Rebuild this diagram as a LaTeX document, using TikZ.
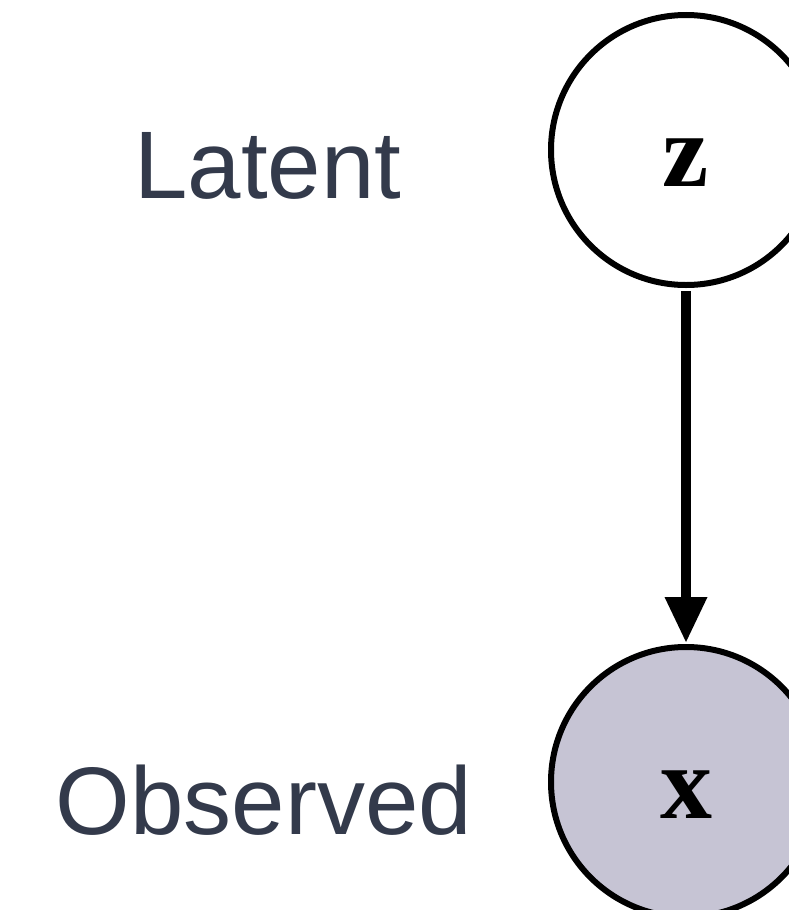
\documentclass[tikz,border=0pt]{standalone}
\usepackage{fontspec}
\setmainfont{Liberation Sans}
\newfontfamily\serifbold{Liberation Serif}
\usetikzlibrary{arrows.meta}
\definecolor{labelgray}{RGB}{51,58,75}
\definecolor{obsfill}{RGB}{198,196,212}
\begin{document}
\begin{tikzpicture}[x=1pt,y=-1pt,
  varnode/.style={circle,draw=black,line width=6pt,minimum size=270pt,inner sep=0pt,
    text height=72pt,text depth=0pt,font=\serifbold\bfseries\fontsize{104}{110}\selectfont},
  rowlabel/.style={anchor=base,text=labelgray,font=\fontsize{96}{110}\selectfont,inner sep=0pt},
  edge/.style={line width=10pt,-{Triangle[width=43pt,length=45pt,line width=0pt]}}]
\useasboundingbox (0,0) rectangle (789,910);
\node[varnode,fill=white] (z) at (686,150) {z};
\node[varnode,fill=obsfill] (x) at (686,782) {x};
\node[rowlabel] (lat) at (268,198) {Latent};
\node[rowlabel] (obs) at (264,834) {Observed};
\draw[edge,shorten <=3pt,shorten >=2pt] (z.south) -- (x.north);
\end{tikzpicture}
\end{document}
